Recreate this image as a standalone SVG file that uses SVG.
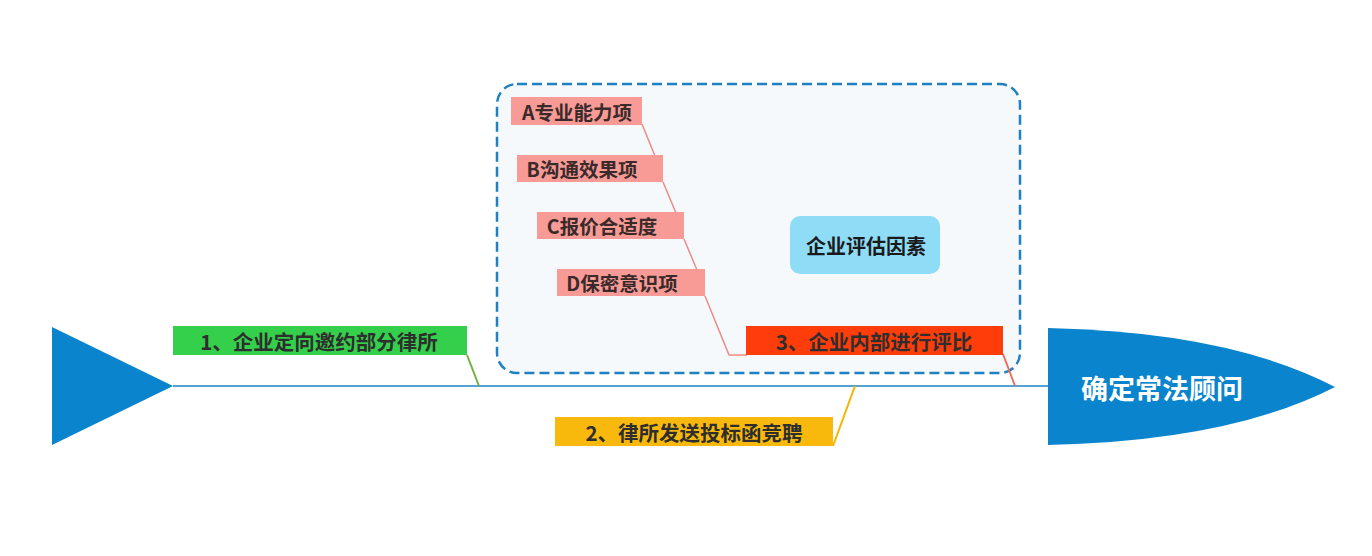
<svg xmlns="http://www.w3.org/2000/svg" width="1372" height="556" viewBox="0 0 1372 556">
<style>
text{font-family:"Noto Sans CJK SC","Liberation Sans",sans-serif;font-weight:bold;text-anchor:middle;dominant-baseline:central}
.lbl{font-size:20.5px;fill:#2e2e2e}
.sub{font-size:19.5px;fill:#3a2a2a}
.pink{fill:#f89a96}
.pl{stroke:#ef8a84;stroke-width:1.5;fill:none}
</style>
<rect width="1372" height="556" fill="#ffffff"/>
<g id="frame">
<rect x="497" y="84" width="523" height="289" rx="20" fill="#f6f9fc" stroke="#1f80c2" stroke-width="2.5" stroke-dasharray="10 5"/>
</g>
<g id="connectors">
<line x1="173" y1="386" x2="1048" y2="386" stroke="#1a84cc" stroke-width="1.5"/>
<line x1="467" y1="355" x2="479" y2="386" stroke="#6db33f" stroke-width="2"/>
<line x1="833" y1="446" x2="855" y2="386" stroke="#f5b400" stroke-width="2"/>
<line x1="1003" y1="354" x2="1015" y2="386" stroke="#ef6a5a" stroke-width="2"/>
<polyline class="pl" points="642,124 655,156"/>
<polyline class="pl" points="663,182 676,213"/>
<polyline class="pl" points="684,239 697,270"/>
<polyline class="pl" points="705,296 729,355 747,355"/>
</g>
<g id="tail">
<polygon points="52,327 173,386 52,445" fill="#0a84cc"/>
</g>
<g id="head">
<path d="M1048,328 Q1230,332 1335,387 Q1230,441 1048,445 Z" fill="#0a84cc"/>
<text x="1162" y="387" style="font-size:27px;fill:#ffffff">确定常法顾问</text>
</g>
<g id="step1">
<rect x="173" y="326" width="294" height="29" fill="#34d04b"/>
<text class="lbl" x="319" y="341">1、企业定向邀约部分律所</text>
</g>
<g id="step2">
<rect x="555" y="417" width="278" height="29" fill="#f9b90c"/>
<text class="lbl" x="694" y="432">2、律所发送投标函竞聘</text>
</g>
<g id="step3">
<rect x="746" y="326" width="257" height="29" fill="#ff3d0a"/>
<text class="lbl" x="874" y="341">3、企业内部进行评比</text>
</g>
<g id="factorA">
<rect class="pink" x="511" y="97" width="131" height="28"/>
<text class="sub" x="577" y="111">A专业能力项</text>
</g>
<g id="factorB">
<rect class="pink" x="517" y="155" width="146" height="27"/>
<text class="sub" x="582" y="168">B沟通效果项</text>
</g>
<g id="factorC">
<rect class="pink" x="537" y="212" width="147" height="27"/>
<text class="sub" x="602" y="225">C报价合适度</text>
</g>
<g id="factorD">
<rect class="pink" x="557" y="269" width="148" height="27"/>
<text class="sub" x="622" y="282">D保密意识项</text>
</g>
<g id="factors">
<rect x="790" y="216" width="150" height="58" rx="10" fill="#8edcf6"/>
<text x="866" y="245" style="font-size:20px;fill:#1a1a1a">企业评估因素</text>
</g>
</svg>
